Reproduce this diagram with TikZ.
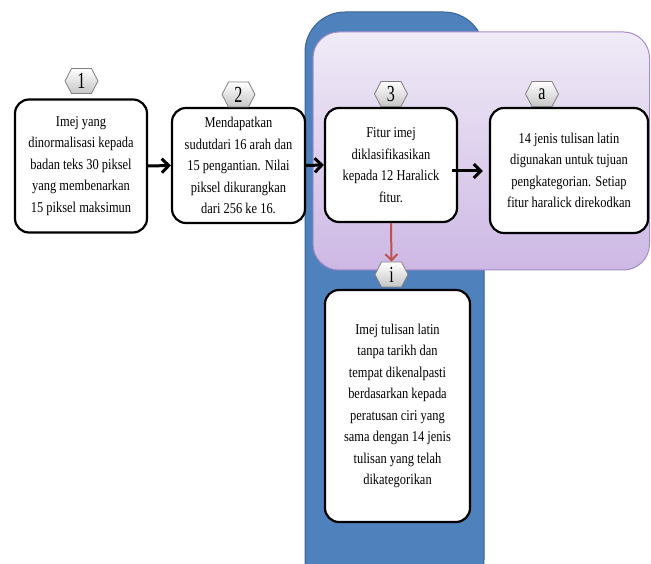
\documentclass[tikz,border=0pt]{standalone}
\usepackage{fontspec}
\setmainfont{Liberation Serif}[FakeStretch=0.83]
\usetikzlibrary{shapes.symbols,arrows.meta,calc}
\definecolor{panelblue}{HTML}{4F81BD}
\definecolor{panelblueline}{HTML}{3A6497}
\definecolor{lavtop}{HTML}{F0EBF7}
\definecolor{lavbot}{HTML}{CDB8E4}
\definecolor{lavline}{HTML}{A68BC9}
\definecolor{redarrow}{HTML}{C0504D}
\definecolor{hexline}{HTML}{7F7F7F}
\tikzset{
  stepbox/.style={draw=black, line width=2.2pt, fill=white, rounded corners=14pt,
    align=center, inner sep=4pt, font=\fontsize{15}{21.5}\selectfont},
  hexlabel/.style={signal, signal to=west and east, signal pointer angle=125,
    draw=hexline, line width=0.8pt, top color=white, bottom color=gray!45,
    minimum width=33pt, minimum height=25pt, inner sep=0pt,
    font=\fontsize{23}{23}\selectfont\addfontfeatures{FakeStretch=0.7}},
  flow/.style={line width=3pt, -{Straight Barb[length=7pt,width=14pt,line width=3pt]}},
  redflow/.style={draw=redarrow, line width=2pt, -{Straight Barb[length=6pt,width=12pt,line width=2pt]}}
}
\begin{document}
\begin{tikzpicture}[x=1pt,y=-1pt]
\useasboundingbox (0,0) rectangle (651,564);
\clip (0,0) rectangle (651,564);
% background panels
\fill[panelblue, draw=panelblueline, line width=1pt, rounded corners=40pt] (305,12) rectangle (484,600);
\shade[top color=lavtop, bottom color=lavbot, rounded corners=26pt] (313,32) rectangle (649.5,270);
\draw[lavline, line width=1pt, rounded corners=26pt] (313,32) rectangle (649.5,270);
% boxes
\node[stepbox, minimum width=132pt, minimum height=133pt] (b1) at (81,166)
  {Imej yang\\dinormalisasi kepada\\badan teks 30 piksel\\yang membenarkan\\15 piksel maksimun};
\node[stepbox, minimum width=133pt, minimum height=115pt] (b2) at (238.5,165.5)
  {Mendapatkan\\sudutdari 16 arah dan\\15 pengantian. Nilai\\piksel dikurangkan\\dari 256 ke 16.};
\node[stepbox, minimum width=132pt, minimum height=114pt] (b3) at (391,165)
  {Fitur imej\\diklasifikasikan\\kepada 12 Haralick\\fitur.};
\node[stepbox, minimum width=158pt, minimum height=125pt] (ba) at (569,170.5)
  {14 jenis tulisan latin\\digunakan untuk tujuan\\pengkategorian. Setiap\\fitur haralick direkodkan};
\node[stepbox, minimum width=145pt, minimum height=232pt] (bi) at (397.5,406)
  {Imej tulisan latin\\tanpa tarikh dan\\tempat dikenalpasti\\berdasarkan kepada\\peratusan ciri yang\\sama dengan 14 jenis\\tulisan yang telah\\dikategorikan};
% hex labels
\node[hexlabel] (h1) at (81.5,81) {1};
\node[hexlabel] (h2) at (238.5,94.5) {2};
\node[hexlabel] (h3) at (391,94) {3};
\node[hexlabel] (ha) at (542,94) {a};
\node[hexlabel] (hi) at (391.5,274.5) {i};
% connectors
\draw[flow] (b1.east) -- (b2.west);
\draw[flow] (b2.east) -- (b3.west);
\draw[flow] ([shift={(-6pt,-6pt)}]b3.east) -- ([shift={(-6pt,-6pt)}]b3.east -| ba.west);
\draw[redflow] (b3.south) -- (hi.north);
\end{tikzpicture}
\end{document}
